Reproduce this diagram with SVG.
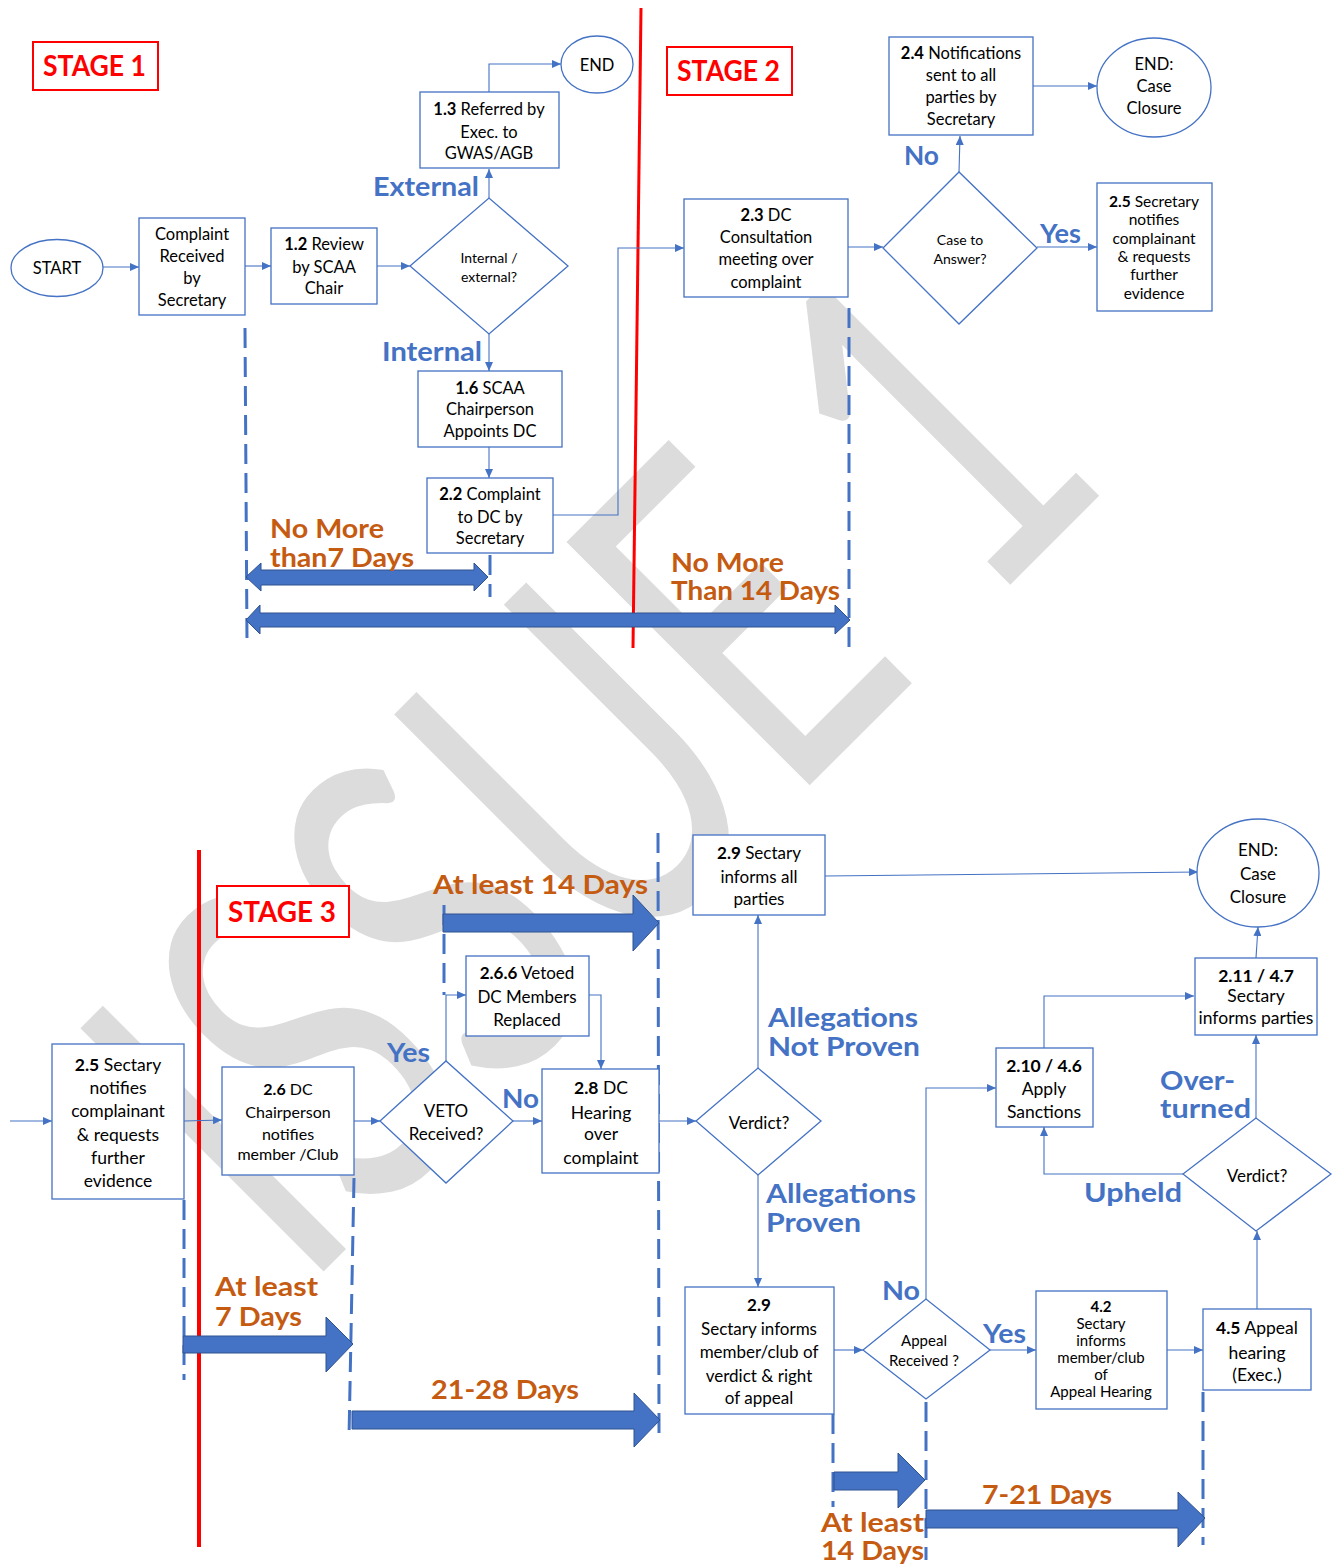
<svg xmlns="http://www.w3.org/2000/svg" width="1341" height="1567" viewBox="0 0 1341 1567">
<style>
.bx{fill:#fff;stroke:#4472C4;stroke-width:1.3}
.t{font-family:Lato,"Liberation Sans",sans-serif;fill:#000;text-anchor:middle;dominant-baseline:central}
.c{fill:none;stroke:#4472C4;stroke-width:1.1}
.d{fill:none;stroke:#4472C4;stroke-width:3;stroke-dasharray:20 9}
.lb{font-family:Lato,"Liberation Sans",sans-serif;font-weight:bold;fill:#4472C4;font-size:27px}
.lo{font-family:Lato,"Liberation Sans",sans-serif;font-weight:bold;fill:#C55A11;font-size:27px}
.st{font-family:Lato,"Liberation Sans",sans-serif;font-weight:bold;fill:#FF0000;font-size:28px}
.sb{fill:#fff;stroke:#FF0000;stroke-width:2}
.fat{fill:#4472C4;stroke:#2F528F;stroke-width:1}
.red{stroke:#FF0000;fill:none}
.wm{font-family:Lato,"Liberation Sans",sans-serif;fill:#dcdcdc;font-size:480px;text-anchor:middle}
</style>
<defs>
<marker id="ah" markerUnits="userSpaceOnUse" markerWidth="9" markerHeight="8" refX="9" refY="4" orient="auto">
<path d="M0,0 L9,4 L0,8 z" fill="#4472C4"/>
</marker>
</defs>
<rect width="1341" height="1567" fill="#fff"/>
<text class="wm" x="709" y="886" transform="rotate(-45 709 886)" textLength="1150" lengthAdjust="spacingAndGlyphs">ISSUE 1</text>

<g id="redlines">
<line class="red" x1="641" y1="8" x2="633" y2="648" stroke-width="3"/>
<line class="red" x1="199" y1="850" x2="199" y2="1547" stroke-width="4"/>
</g>

<g id="timelines">
<path class="d" d="M245,328 L247,642"/>
<path class="d" d="M490,555 L490,597"/>
<path class="d" d="M849,308 L849,648"/>
<path class="d" d="M444,905 L444,995"/>
<path class="d" d="M658,833 L659,1437"/>
<path class="d" d="M184,1200 L184,1380"/>
<path class="d" d="M354,1178 L349,1438"/>
<path class="d" d="M833,1414 L833,1507"/>
<path class="d" d="M926,1402 L926,1560"/>
<path class="d" d="M1203,1392 L1203,1545"/>
<polygon class="fat" points="246,577 261,563 261,570 474,570 474,563 488,577 474,591 474,585 261,585 261,591"/>
<polygon class="fat" points="246,620 260,605 260,613 835,613 835,605 850,620 835,634 835,627 260,627 260,634"/>
<polygon class="fat" points="443,914 633,914 633,895 659,923 633,951 633,932 443,932"/>
<polygon class="fat" points="183,1336 326,1336 326,1317 353,1344 326,1372 326,1353 183,1353"/>
<polygon class="fat" points="352,1411 634,1411 634,1393 660,1420 634,1447 634,1429 352,1429"/>
<polygon class="fat" points="834,1472 898,1472 898,1453 925,1480 898,1508 898,1490 834,1490"/>
<polygon class="fat" points="926,1510 1178,1510 1178,1492 1205,1518 1178,1547 1178,1528 926,1528"/>
<text class="lo" x="270" y="538" textLength="114" lengthAdjust="spacingAndGlyphs">No More</text>
<text class="lo" x="270" y="567" textLength="144" lengthAdjust="spacingAndGlyphs">than7 Days</text>
<text class="lo" x="671" y="572" textLength="113" lengthAdjust="spacingAndGlyphs">No More</text>
<text class="lo" x="671" y="600" textLength="169" lengthAdjust="spacingAndGlyphs">Than 14 Days</text>
<text class="lo" x="433" y="894" textLength="215" lengthAdjust="spacingAndGlyphs">At least 14 Days</text>
<text class="lo" x="215" y="1296" textLength="103" lengthAdjust="spacingAndGlyphs">At least</text>
<text class="lo" x="215" y="1326" textLength="87" lengthAdjust="spacingAndGlyphs">7 Days</text>
<text class="lo" x="431" y="1399" textLength="148" lengthAdjust="spacingAndGlyphs">21-28 Days</text>
<text class="lo" x="821" y="1532" textLength="103" lengthAdjust="spacingAndGlyphs">At least</text>
<text class="lo" x="821" y="1560" textLength="103" lengthAdjust="spacingAndGlyphs">14 Days</text>
<text class="lo" x="982" y="1504" textLength="130" lengthAdjust="spacingAndGlyphs">7-21 Days</text>
</g>

<g id="stage-labels">
<rect class="sb" x="33" y="42" width="125" height="48"/>
<text class="st" x="43" y="76" textLength="103" lengthAdjust="spacingAndGlyphs">STAGE 1</text>
<rect class="sb" x="667" y="47" width="125" height="48"/>
<text class="st" x="677" y="81" textLength="103" lengthAdjust="spacingAndGlyphs">STAGE 2</text>
<rect class="sb" x="217" y="886" width="132" height="51"/>
<text class="st" x="228" y="922" textLength="108" lengthAdjust="spacingAndGlyphs">STAGE 3</text>
</g>

<g id="connectors">
<path class="c" marker-end="url(#ah)" d="M103,267 L139,267"/>
<path class="c" marker-end="url(#ah)" d="M245,266 L271,266"/>
<path class="c" marker-end="url(#ah)" d="M377,266 L410,266"/>
<path class="c" marker-end="url(#ah)" d="M489,198 L489,169"/>
<path class="c" marker-end="url(#ah)" d="M489,92 L489,64 L561,64"/>
<path class="c" marker-end="url(#ah)" d="M489,334 L489,371"/>
<path class="c" marker-end="url(#ah)" d="M489,447 L489,478"/>
<path class="c" marker-end="url(#ah)" d="M553,515 L618,515 L618,248 L684,248"/>
<path class="c" marker-end="url(#ah)" d="M848,247 L883,247"/>
<path class="c" marker-end="url(#ah)" d="M959,172 L960,136"/>
<path class="c" marker-end="url(#ah)" d="M1033,86 L1097,86"/>
<path class="c" marker-end="url(#ah)" d="M1037,247 L1097,247"/>
<path class="c" marker-end="url(#ah)" d="M10,1121 L52,1121"/>
<path class="c" marker-end="url(#ah)" d="M184,1121 L222,1120"/>
<path class="c" marker-end="url(#ah)" d="M354,1121 L380,1121"/>
<path class="c" marker-end="url(#ah)" d="M446,1061 L446,995 L466,995"/>
<path class="c" marker-end="url(#ah)" d="M589,995 L601,995 L601,1069"/>
<path class="c" marker-end="url(#ah)" d="M513,1121 L542,1121"/>
<path class="c" marker-end="url(#ah)" d="M659,1121 L696,1121"/>
<path class="c" marker-end="url(#ah)" d="M758,1068 L758,915"/>
<path class="c" marker-end="url(#ah)" d="M825,876 L1198,872"/>
<path class="c" marker-end="url(#ah)" d="M758,1175 L758,1287"/>
<path class="c" marker-end="url(#ah)" d="M834,1350 L863,1350"/>
<path class="c" marker-end="url(#ah)" d="M926,1299 L926,1088 L996,1088"/>
<path class="c" marker-end="url(#ah)" d="M990,1350 L1036,1350"/>
<path class="c" marker-end="url(#ah)" d="M1167,1350 L1203,1350"/>
<path class="c" marker-end="url(#ah)" d="M1257,1309 L1257,1231"/>
<path class="c" marker-end="url(#ah)" d="M1183,1174 L1044,1174 L1044,1127"/>
<path class="c" marker-end="url(#ah)" d="M1256,1118 L1256,1035"/>
<path class="c" marker-end="url(#ah)" d="M1044,1048 L1044,996 L1194,996"/>
<path class="c" marker-end="url(#ah)" d="M1256,958 L1258,927"/>
<text class="lb" x="373" y="196" textLength="106" lengthAdjust="spacingAndGlyphs">External</text>
<text class="lb" x="382" y="361" textLength="100" lengthAdjust="spacingAndGlyphs">Internal</text>
<text class="lb" x="904" y="165" textLength="35" lengthAdjust="spacingAndGlyphs">No</text>
<text class="lb" x="1040" y="243" textLength="41" lengthAdjust="spacingAndGlyphs">Yes</text>
<text class="lb" x="387" y="1062" textLength="43" lengthAdjust="spacingAndGlyphs">Yes</text>
<text class="lb" x="502" y="1108" textLength="37" lengthAdjust="spacingAndGlyphs">No</text>
<text class="lb" x="768" y="1027" textLength="150" lengthAdjust="spacingAndGlyphs">Allegations</text>
<text class="lb" x="768" y="1056" textLength="152" lengthAdjust="spacingAndGlyphs">Not Proven</text>
<text class="lb" x="766" y="1203" textLength="150" lengthAdjust="spacingAndGlyphs">Allegations</text>
<text class="lb" x="766" y="1232" textLength="95" lengthAdjust="spacingAndGlyphs">Proven</text>
<text class="lb" x="1160" y="1090" textLength="75" lengthAdjust="spacingAndGlyphs">Over-</text>
<text class="lb" x="1160" y="1118" textLength="91" lengthAdjust="spacingAndGlyphs">turned</text>
<text class="lb" x="1084" y="1202" textLength="98" lengthAdjust="spacingAndGlyphs">Upheld</text>
<text class="lb" x="882" y="1300" textLength="38" lengthAdjust="spacingAndGlyphs">No</text>
<text class="lb" x="983" y="1343" textLength="43" lengthAdjust="spacingAndGlyphs">Yes</text>
</g>

<g id="start">
<ellipse class="bx" cx="57" cy="268" rx="46" ry="28.5"/>
<text class="t" x="57" y="268" font-size="16.5">START</text>
</g>
<g id="complaint-received">
<rect class="bx" x="139" y="218" width="106" height="97"/>
<text class="t" font-size="16.5"><tspan x="192" y="234">Complaint</tspan><tspan x="192" y="256">Received</tspan><tspan x="192" y="278">by</tspan><tspan x="192" y="300">Secretary</tspan></text>
</g>
<g id="n1-2">
<rect class="bx" x="271" y="228" width="106" height="76"/>
<text class="t" font-size="16.5"><tspan x="324" y="244"><tspan font-weight="bold">1.2</tspan> Review</tspan><tspan x="324" y="267">by SCAA</tspan><tspan x="324" y="288">Chair</tspan></text>
</g>
<g id="internal-external">
<polygon class="bx" points="410,266 489,198 568,266 489,334"/>
<text class="t" font-size="14"><tspan x="489" y="257">Internal /</tspan><tspan x="489" y="276">external?</tspan></text>
</g>
<g id="n1-3">
<rect class="bx" x="420" y="92" width="139" height="76"/>
<text class="t" font-size="16.5"><tspan x="489" y="109"><tspan font-weight="bold">1.3</tspan> Referred by</tspan><tspan x="489" y="132">Exec. to</tspan><tspan x="489" y="153">GWAS/AGB</tspan></text>
</g>
<g id="end1">
<ellipse class="bx" cx="597" cy="64.5" rx="36" ry="28.5"/>
<text class="t" x="597" y="65" font-size="16.5">END</text>
</g>
<g id="n1-6">
<rect class="bx" x="418" y="371" width="144" height="76"/>
<text class="t" font-size="16.5"><tspan x="490" y="388"><tspan font-weight="bold">1.6</tspan> SCAA</tspan><tspan x="490" y="409">Chairperson</tspan><tspan x="490" y="431">Appoints DC</tspan></text>
</g>
<g id="n2-2">
<rect class="bx" x="427" y="478" width="126" height="75"/>
<text class="t" font-size="16.5"><tspan x="490" y="494"><tspan font-weight="bold">2.2</tspan> Complaint</tspan><tspan x="490" y="517">to DC by</tspan><tspan x="490" y="538">Secretary</tspan></text>
</g>
<g id="n2-3">
<rect class="bx" x="684" y="199" width="164" height="98"/>
<text class="t" font-size="16.5"><tspan x="766" y="215"><tspan font-weight="bold">2.3</tspan> DC</tspan><tspan x="766" y="237">Consultation</tspan><tspan x="766" y="259">meeting over</tspan><tspan x="766" y="282">complaint</tspan></text>
</g>
<g id="case-to-answer">
<polygon class="bx" points="883,248 959,172 1037,248 959,324"/>
<text class="t" font-size="14"><tspan x="960" y="239">Case to</tspan><tspan x="960" y="258">Answer?</tspan></text>
</g>
<g id="n2-4">
<rect class="bx" x="889" y="37" width="144" height="98"/>
<text class="t" font-size="16.5"><tspan x="961" y="53"><tspan font-weight="bold">2.4</tspan> Notifications</tspan><tspan x="961" y="75">sent to all</tspan><tspan x="961" y="97">parties by</tspan><tspan x="961" y="119">Secretary</tspan></text>
</g>
<g id="end-case-closure-1">
<ellipse class="bx" cx="1154" cy="87.5" rx="57" ry="49.5"/>
<text class="t" font-size="16.5"><tspan x="1154" y="64">END:</tspan><tspan x="1154" y="86">Case</tspan><tspan x="1154" y="108">Closure</tspan></text>
</g>
<g id="n2-5-top">
<rect class="bx" x="1097" y="183" width="115" height="128"/>
<text class="t" font-size="15.5"><tspan x="1154" y="201"><tspan font-weight="bold">2.5</tspan> Secretary</tspan><tspan x="1154" y="219">notifies</tspan><tspan x="1154" y="238">complainant</tspan><tspan x="1154" y="256">&amp; requests</tspan><tspan x="1154" y="274">further</tspan><tspan x="1154" y="293">evidence</tspan></text>
</g>

<g id="n2-5">
<rect class="bx" x="52" y="1044" width="132" height="155"/>
<text class="t" font-size="17.5"><tspan x="118" y="1064"><tspan font-weight="bold">2.5</tspan> Sectary</tspan><tspan x="118" y="1087">notifies</tspan><tspan x="118" y="1110">complainant</tspan><tspan x="118" y="1134">&amp; requests</tspan><tspan x="118" y="1157">further</tspan><tspan x="118" y="1180">evidence</tspan></text>
</g>
<g id="n2-6">
<rect class="bx" x="222" y="1067" width="132" height="108"/>
<text class="t" font-size="16"><tspan x="288" y="1088"><tspan font-weight="bold">2.6</tspan> DC</tspan><tspan x="288" y="1111">Chairperson</tspan><tspan x="288" y="1133">notifies</tspan><tspan x="288" y="1153">member /Club</tspan></text>
</g>
<g id="veto">
<polygon class="bx" points="380,1121 446,1061 513,1121 446,1183"/>
<text class="t" font-size="17"><tspan x="446" y="1110">VETO</tspan><tspan x="446" y="1133">Received?</tspan></text>
</g>
<g id="n2-6-6">
<rect class="bx" x="466" y="956" width="123" height="80"/>
<text class="t" font-size="17"><tspan x="527" y="972"><tspan font-weight="bold">2.6.6</tspan> Vetoed</tspan><tspan x="527" y="996">DC Members</tspan><tspan x="527" y="1019">Replaced</tspan></text>
</g>
<g id="n2-8">
<rect class="bx" x="542" y="1069" width="117" height="104"/>
<text class="t" font-size="17.5"><tspan x="601" y="1087"><tspan font-weight="bold">2.8</tspan> DC</tspan><tspan x="601" y="1112">Hearing</tspan><tspan x="601" y="1133">over</tspan><tspan x="601" y="1157">complaint</tspan></text>
</g>
<g id="verdict1">
<polygon class="bx" points="696,1121 758,1068 821,1121 758,1175"/>
<text class="t" x="759" y="1122" font-size="17">Verdict?</text>
</g>
<g id="n2-9-top">
<rect class="bx" x="693" y="835" width="132" height="80"/>
<text class="t" font-size="17"><tspan x="759" y="852"><tspan font-weight="bold">2.9</tspan> Sectary</tspan><tspan x="759" y="876">informs all</tspan><tspan x="759" y="898">parties</tspan></text>
</g>
<g id="end-case-closure-2">
<ellipse class="bx" cx="1258" cy="873" rx="61" ry="54"/>
<text class="t" font-size="17"><tspan x="1258" y="849">END:</tspan><tspan x="1258" y="873">Case</tspan><tspan x="1258" y="896">Closure</tspan></text>
</g>
<g id="n2-9-bottom">
<rect class="bx" x="685" y="1287" width="149" height="127"/>
<text class="t" font-size="17"><tspan x="759" y="1304" font-weight="bold">2.9</tspan><tspan x="759" y="1328">Sectary informs</tspan><tspan x="759" y="1351">member/club of</tspan><tspan x="759" y="1375">verdict &amp; right</tspan><tspan x="759" y="1397">of appeal</tspan></text>
</g>
<g id="appeal-received">
<polygon class="bx" points="863,1350 926,1299 990,1350 926,1399"/>
<text class="t" font-size="15"><tspan x="924" y="1340">Appeal</tspan><tspan x="924" y="1360">Received  ?</tspan></text>
</g>
<g id="n4-2">
<rect class="bx" x="1036" y="1291" width="131" height="118"/>
<text class="t" font-size="15"><tspan x="1101" y="1306" font-weight="bold">4.2</tspan><tspan x="1101" y="1323">Sectary</tspan><tspan x="1101" y="1340">informs</tspan><tspan x="1101" y="1357">member/club</tspan><tspan x="1101" y="1374">of</tspan><tspan x="1101" y="1391">Appeal Hearing</tspan></text>
</g>
<g id="n4-5">
<rect class="bx" x="1203" y="1309" width="108" height="81"/>
<text class="t" font-size="17.5"><tspan x="1257" y="1327"><tspan font-weight="bold">4.5</tspan> Appeal</tspan><tspan x="1257" y="1352">hearing</tspan><tspan x="1257" y="1374">(Exec.)</tspan></text>
</g>
<g id="verdict2">
<polygon class="bx" points="1183,1174 1256,1118 1331,1174 1256,1231"/>
<text class="t" x="1257" y="1175" font-size="17">Verdict?</text>
</g>
<g id="n2-10">
<rect class="bx" x="996" y="1048" width="97" height="79"/>
<text class="t" font-size="17.5"><tspan x="1044" y="1065" font-weight="bold">2.10 / 4.6</tspan><tspan x="1044" y="1088">Apply</tspan><tspan x="1044" y="1111">Sanctions</tspan></text>
</g>
<g id="n2-11">
<rect class="bx" x="1195" y="958" width="122" height="77"/>
<text class="t" font-size="17.5"><tspan x="1256" y="975" font-weight="bold">2.11 / 4.7</tspan><tspan x="1256" y="995">Sectary</tspan><tspan x="1256" y="1017">informs parties</tspan></text>
</g>
</svg>
